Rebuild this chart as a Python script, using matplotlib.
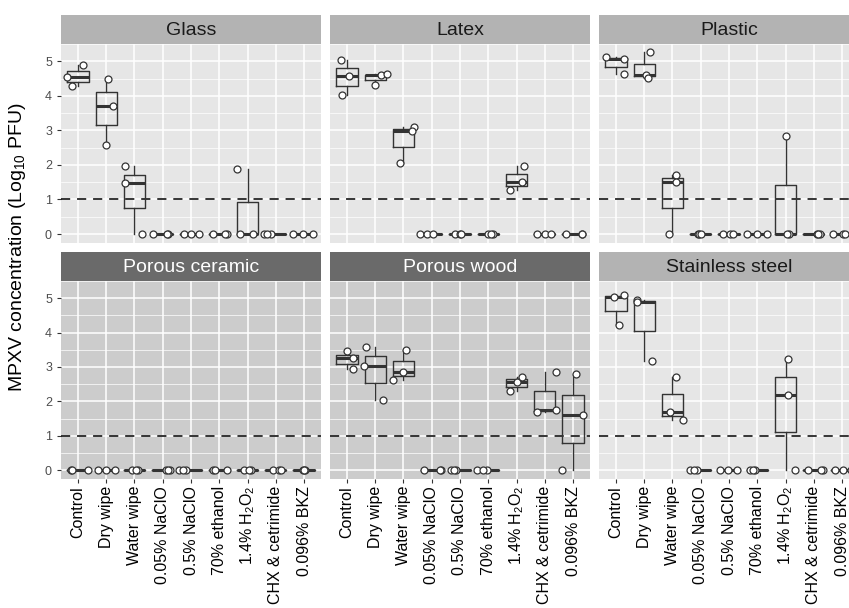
import matplotlib
matplotlib.use("Agg")
import matplotlib.pyplot as plt

plt.rcParams.update({"font.family": ["Liberation Sans", "DejaVu Sans"],
                     "mathtext.fontset": "custom", "mathtext.rm": "Liberation Sans",
                     "mathtext.default": "regular"})

TREATMENTS = ["Control", "Dry wipe", "Water wipe", "0.05% NaClO", "0.5% NaClO",
              "70% ethanol", "1.4% H$_2$O$_2$", "CHX & cetrimide", "0.096% BKZ"]
SURFACES = ["Glass", "Latex", "Plastic", "Porous ceramic", "Porous wood", "Stainless steel"]
POROUS = {"Porous ceramic", "Porous wood"}

# log10 PFU, three replicates per treatment
GLASS = [[4.54, 4.88, 4.28], [4.50, 3.71, 2.59], [1.96, 1.48, 0], [0, 0, 0], [0, 0, 0],
         [0, 0, 0], [1.88, 0, 0], [0, 0, 0], [0, 0, 0]]
LATEX = [[5.04, 4.56, 4.01], [4.32, 4.59, 4.64], [3.09, 2.98, 2.05], [0, 0, 0], [0, 0, 0],
         [0, 0, 0], [1.96, 1.50, 1.28], [0, 0, 0], [0, 0, 0]]
PLASTIC = [[5.12, 5.07, 4.62], [5.27, 4.60, 4.52], [1.72, 1.50, 0], [0, 0, 0], [0, 0, 0],
           [0, 0, 0], [2.85, 0, 0], [0, 0, 0], [0, 0, 0]]
CERAMIC = [[0, 0, 0]] * 9
WOOD = [[3.46, 3.25, 2.93], [3.59, 3.03, 2.03], [3.49, 2.85, 2.62], [0, 0, 0], [0, 0, 0],
        [0, 0, 0], [2.31, 2.55, 2.72], [2.86, 1.75, 1.68], [2.79, 1.60, 0]]
STEEL = [[5.03, 5.08, 4.21], [4.95, 4.90, 3.18], [2.72, 1.69, 1.47], [0, 0, 0], [0, 0, 0],
         [0, 0, 0], [3.22, 2.19, 0], [0, 0, 0], [0, 0, 0]]

# horizontal jitter of each replicate (category units)
JIT_GLASS = [[-0.38, 0.18, -0.20], [0.05, 0.24, -0.02], [-0.32, -0.34, 0.27], [-0.33, 0.18, 0.15],
             [-0.24, 0.0, 0.29], [-0.21, 0.26, 0.22], [-0.39, -0.27, 0.18], [-0.41, -0.18, -0.30],
             [-0.38, -0.02, 0.33]]
JIT_LATEX = [[-0.21, 0.06, -0.18], [0.0, 0.21, 0.41], [0.38, 0.30, -0.12], [-0.41, -0.18, 0.06],
             [-0.18, 0.0, 0.05], [0.0, 0.18, 0.10], [0.26, 0.21, -0.24], [-0.26, 0.0, 0.21],
             [-0.26, 0.33, 0.30]]
JIT_PLASTIC = [[-0.34, 0.27, 0.27], [0.21, 0.05, 0.12], [0.13, 0.13, -0.12], [-0.08, -0.05, 0.0],
               [-0.20, 0.04, 0.15], [-0.38, -0.02, 0.33], [0.02, 0.12, 0.05], [0.10, 0.22, 0.15],
               [-0.32, 0.04, 0.10]]
JIT_CERAMIC = [[-0.26, 0.35, -0.20], [-0.29, 0.0, 0.31], [-0.08, 0.12, 0.05], [0.12, 0.24, 0.18],
               [-0.41, -0.18, -0.30], [-0.21, 0.26, -0.15], [-0.12, 0.12, 0.05], [-0.09, 0.12, 0.20],
               [-0.02, 0.05, 0.0]]
JIT_WOOD = [[0.0, 0.20, 0.20], [-0.32, -0.41, 0.26], [0.09, -0.02, -0.38], [-0.26, 0.32, 0.30],
            [-0.33, -0.14, -0.20], [-0.39, -0.06, -0.20], [-0.24, 0.0, 0.18], [0.39, 0.39, -0.26],
            [0.09, 0.36, -0.38]]
JIT_STEEL = [[-0.06, 0.27, 0.12], [-0.26, -0.26, 0.29], [0.13, -0.08, 0.36], [-0.38, -0.14, -0.25],
             [-0.32, -0.02, 0.27], [-0.26, -0.08, -0.15], [0.08, 0.08, 0.32], [-0.20, 0.33, 0.25],
             [-0.26, 0.04, 0.30]]

DATA = dict(zip(SURFACES, [GLASS, LATEX, PLASTIC, CERAMIC, WOOD, STEEL]))
JITTER = dict(zip(SURFACES, [JIT_GLASS, JIT_LATEX, JIT_PLASTIC, JIT_CERAMIC, JIT_WOOD, JIT_STEEL]))
LOD = 1.0

W, H = 849, 608
fig = plt.figure(figsize=(W / 100, H / 100), dpi=100)

lefts = [61, 330, 599]
rows = [(44, 243, 15), (281, 479, 252)]  # panel top, panel bottom, strip top (px)
pw = 260
ink = "#333333"

for k, surf in enumerate(SURFACES):
    r, c = divmod(k, 3)
    top, bot, stop = rows[r]
    x0 = lefts[c]
    ax = fig.add_axes([x0 / W, 1 - bot / H, pw / W, (bot - top) / H])
    sax = fig.add_axes([x0 / W, 1 - top / H, pw / W, (top - stop) / H])
    dark = surf in POROUS
    ax.set_facecolor("#cccccc" if dark else "#e6e6e6")
    sax.set_facecolor("#6a6a6a" if dark else "#b3b3b3")
    sax.set_xticks([]); sax.set_yticks([])
    for s in sax.spines.values():
        s.set_visible(False)
    sax.text(0.5, 0.47, surf, transform=sax.transAxes, ha="center", va="center",
             fontsize=14, color="white" if dark else "#1a1a1a")

    vals = DATA[surf]
    pos = list(range(len(TREATMENTS)))
    ax.boxplot(vals, positions=pos, widths=0.75, showfliers=False, showcaps=False,
               boxprops=dict(color=ink, lw=1.0), whiskerprops=dict(color=ink, lw=1.0),
               medianprops=dict(color=ink, lw=2.2), zorder=3)
    xs, ys = [], []
    for i, (v, j) in enumerate(zip(vals, JITTER[surf])):
        xs += [i + o for o in j]; ys += v
    ax.plot(xs, ys, "o", ms=5.0, mfc="white", mec=ink, mew=0.9, zorder=4)
    ax.axhline(LOD, color="black", lw=1.1, ls=(0, (6, 4.5)), zorder=2)

    ax.set_xlim(-0.6, 8.6); ax.set_ylim(-0.26, 5.49)
    ax.set_yticks(range(6)); ax.set_yticks([0.5, 1.5, 2.5, 3.5, 4.5, 5.5], minor=True)
    ax.set_xticks(pos)
    ax.grid(which="major", color="white", lw=1.1, zorder=0)
    ax.grid(which="minor", axis="y", color="white", lw=0.5, zorder=0)
    ax.set_axisbelow(True)
    for s in ax.spines.values():
        s.set_visible(False)
    ax.tick_params(which="minor", length=0)
    ax.tick_params(axis="both", which="major", length=3, width=0.8, color=ink)
    if c == 0:
        ax.set_yticklabels([str(t) for t in range(6)], fontsize=9, color="#4d4d4d")
    else:
        ax.tick_params(axis="y", length=0, labelleft=False)
    if r == 1:
        ax.set_xticklabels(TREATMENTS, rotation=90, fontsize=11.5, color="black")
        ax.tick_params(axis="x", pad=2)
    else:
        ax.tick_params(axis="x", length=0, labelbottom=False)

fig.text(18 / W, 1 - 247 / H, "MPXV concentration (Log$_{10}$ PFU)", rotation=90,
         ha="center", va="center", fontsize=14)

fig.savefig("out.png", dpi=100, facecolor="white")
